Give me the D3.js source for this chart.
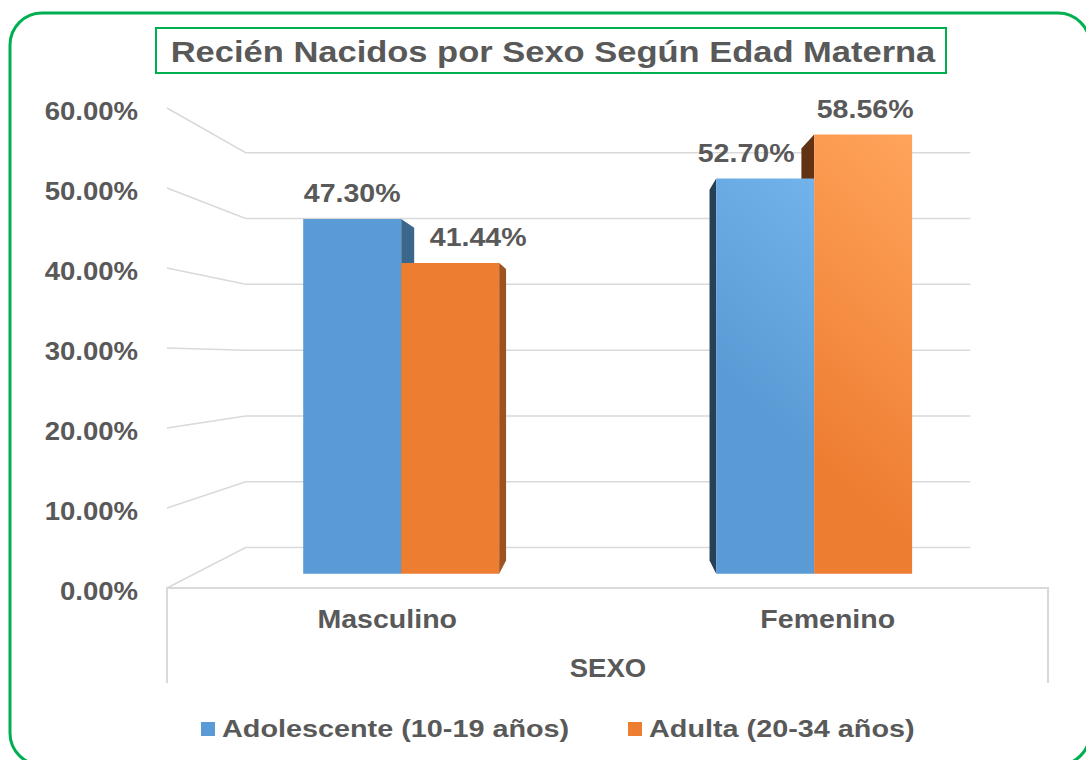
<!DOCTYPE html>
<html>
<head>
<meta charset="utf-8">
<script src="https://cdnjs.cloudflare.com/ajax/libs/d3/7.8.5/d3.min.js"></script>
<style>
  html, body { margin: 0; padding: 0; background: #fff; }
  svg { display: block; }
  text { font-family: "Liberation Sans", Arial, sans-serif; font-weight: bold; fill: #595959; }
</style>
</head>
<body>
<div id="chart"></div>
<script>
// --- Data ---
const chartTitle = 'Recién Nacidos por Sexo Según Edad Materna';
const axisTitle = 'SEXO';
const categories = ['Masculino', 'Femenino'];
const seriesNames = ['Adolescente (10-19 años)', 'Adulta (20-34 años)'];
const adolescente = [47.30, 52.70];
const adulta = [41.44, 58.56];
const yTicks = [0, 10, 20, 30, 40, 50, 60];

(function () {
  'use strict';

  const W = 1086, H = 760;
  const COLORS = ['#5b9bd5', '#ed7d31'];
  const LIGHT = ['#7dbdf6', '#ffa35a'];
  const GRID = '#d9d9d9';

  // perspective: front plane is scale 1, everything shrinks toward the vanishing point
  const VP = { x: 610, y: 360 };
  const DEPTH = { front: 1, barFront: 0.9375, barBack: 0.879, wall: 0.8225 };
  const GROUP_FRAC = 0.4745;
  // small hand nudges for the data labels, as Excel placed them
  const LABEL_DX = [[0, 28], [-19, 2]];
  const STRETCH = 1.12; // the original picture is widened horizontally

  function project(X, Y, s) {
    return [VP.x + (X - VP.x) * s, VP.y + (Y - VP.y) * s];
  }

  const svg = d3.select('#chart').append('svg').attr('width', W).attr('height', H);
  const defs = svg.append('defs');

  COLORS.forEach((c, i) => {
    const grad = defs.append('linearGradient')
      .attr('id', 'grad-' + i)
      .attr('gradientUnits', 'userSpaceOnUse')
      .attr('x1', 500).attr('y1', 575).attr('x2', 900).attr('y2', 135);
    grad.append('stop').attr('offset', 0).attr('stop-color', c);
    grad.append('stop').attr('offset', 0.5).attr('stop-color', c);
    grad.append('stop').attr('offset', 1).attr('stop-color', LIGHT[i]);
  });

  function label(parent, str, x, y, size, anchor, sx) {
    return parent.append('text')
      .attr('transform', `translate(${x},${y}) scale(${sx || STRETCH},1)`)
      .attr('text-anchor', anchor || 'middle')
      .style('font-size', size + 'px')
      .text(str);
  }

  // outer frame
  svg.append('rect')
    .attr('x', 10).attr('y', 13).attr('width', 1080).attr('height', 752)
    .attr('rx', 32).attr('ry', 32)
    .attr('fill', 'none').attr('stroke', '#00b050').attr('stroke-width', 3);

  // title box
  svg.append('rect')
    .attr('x', 156).attr('y', 28).attr('width', 790).attr('height', 45)
    .attr('fill', '#fff').attr('stroke', '#00b050').attr('stroke-width', 2);
  label(svg, chartTitle, 553, 62, 30, 'middle', 1.15);

  // --- Scales (front plane) ---
  const y = d3.scaleLinear().domain([0, 60]).range([588, 108]);
  const x0 = d3.scaleBand().domain(categories).range([167, 1048]);
  const x1 = d3.scaleBand().domain(seriesNames)
    .range([-x0.bandwidth() * GROUP_FRAC / 2, x0.bandwidth() * GROUP_FRAC / 2]);

  const xL = x0.range()[0], xR = x0.range()[1];
  const g = svg.append('g');
  const line = d3.line();

  // gridlines: left wall + back wall
  yTicks.forEach(t => {
    const f = [xL, y(t)];
    const b = project(xL, y(t), DEPTH.wall);
    const br = project(xR, y(t), DEPTH.wall);
    g.append('path').attr('d', line([f, b, br]))
      .attr('fill', 'none').attr('stroke', GRID).attr('stroke-width', 1.5);
  });

  // floor front edge and axis box sides
  g.append('path').attr('d', line([[xL, 683], [xL, y(0)], [xR, y(0)], [xR, 683]]))
    .attr('fill', 'none').attr('stroke', GRID).attr('stroke-width', 2);

  // y labels
  yTicks.forEach(t => {
    label(svg, d3.format('.2f')(t) + '%', 138, y(t) + 11.5, 25.5, 'end', 1.08);
  });

  // --- Bars ---
  const values = [adolescente, adulta];
  const bars = [];
  categories.forEach((cat, ci) => {
    seriesNames.forEach((s, si) => {
      const cx = x0(cat) + x0.bandwidth() / 2;
      const X0 = cx + x1(s), X1 = X0 + x1.bandwidth();
      bars.push({ ci, si, X0, X1, v: values[si][ci] });
    });
  });

  function corners(b, s) {
    return {
      tl: project(b.X0, y(b.v), s), tr: project(b.X1, y(b.v), s),
      bl: project(b.X0, y(0), s), br: project(b.X1, y(0), s)
    };
  }

  // side faces first
  bars.forEach(b => {
    const f = corners(b, DEPTH.barFront), k = corners(b, DEPTH.barBack);
    let pts, col;
    if (f.tr[0] < VP.x) {
      pts = [f.tr, k.tr, k.br, f.br];
      col = d3.rgb(COLORS[b.si]).darker(1.15);
    } else if (f.tl[0] > VP.x) {
      pts = [f.tl, k.tl, k.bl, f.bl];
      col = d3.rgb(COLORS[b.si]).darker(2.5);
    } else return;
    g.append('path').attr('d', line(pts) + 'Z').attr('fill', col);
  });

  // front faces
  bars.forEach(b => {
    const f = corners(b, DEPTH.barFront);
    g.append('path').attr('d', line([f.tl, f.tr, f.br, f.bl]) + 'Z')
      .attr('fill', `url(#grad-${b.si})`);
  });

  // data labels
  bars.forEach(b => {
    const f = corners(b, DEPTH.barFront);
    const cx = (f.tl[0] + f.tr[0]) / 2 + LABEL_DX[b.ci][b.si];
    label(svg, d3.format('.2f')(b.v) + '%', cx, f.tl[1] - 17, 25.5, 'middle', 1.12);
  });

  // category labels and axis title
  categories.forEach(cat => {
    label(svg, cat, x0(cat) + x0.bandwidth() / 2, 628, 25.5, 'middle', 1.12);
  });
  label(svg, axisTitle, (xL + xR) / 2 + 0.5, 677, 25.5, 'middle', 1.08);

  // legend
  const legendX = [201, 628];
  seriesNames.forEach((s, i) => {
    svg.append('rect').attr('x', legendX[i]).attr('y', 722)
      .attr('width', 14).attr('height', 14).attr('fill', COLORS[i]);
    label(svg, s, legendX[i] + 21, 737, 24, 'start', 1.2);
  });
})();
</script>
</body>
</html>
